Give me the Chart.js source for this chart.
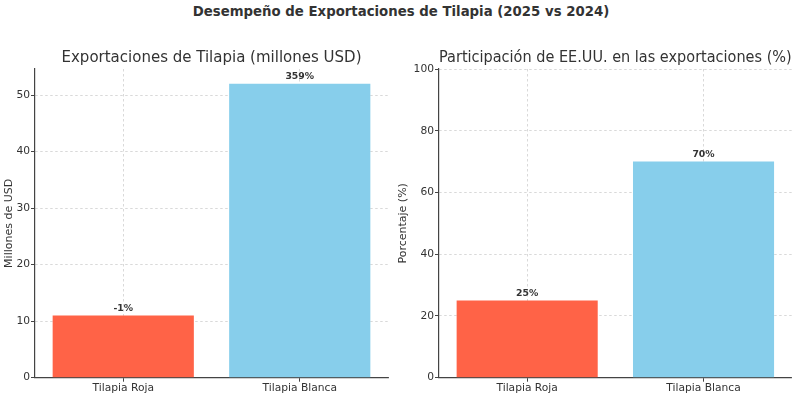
<!DOCTYPE html>
<html>
<head>
<meta charset="utf-8">
<script src="https://cdn.jsdelivr.net/npm/chart.js@4"></script>
<style>
  html, body { margin: 0; padding: 0; background: #fff; }
  #wrap { position: relative; width: 800px; height: 397px; overflow: hidden; }
  #suptitle { position: absolute; left: 0; top: 4px; width: 802px; height: 24px; line-height: 24px;
    text-align: center; font: bold 13.3px 'DejaVu Sans'; color: #333; }
  canvas { position: absolute; top: 0; }
</style>
</head>
<body>
<div id="wrap">
  <div id="suptitle">Desempeño de Exportaciones de Tilapia (2025 vs 2024)</div>
  <canvas id="c1" width="400" height="397" style="left:0px"></canvas>
  <canvas id="c2" width="405" height="397" style="left:395px"></canvas>
</div>
<script>
const categories = ['Tilapia Roja', 'Tilapia Blanca'];
const exportValues = [11, 52];
const exportChangeLabels = ['-1%', '359%'];
const usShareValues = [25, 70];
const usShareLabels = ['25%', '70%'];
const barColors = ['#FF6347', '#87CEEB'];

const FONT = 'DejaVu Sans';
const TEXT = '#333';

const barLabelPlugin = {
  id: 'barLabels',
  afterDatasetsDraw(chart, args, opts) {
    const ctx = chart.ctx;
    const meta = chart.getDatasetMeta(0);
    ctx.save();
    ctx.font = 'bold 9.3px ' + FONT;
    ctx.fillStyle = TEXT;
    ctx.textAlign = 'center';
    ctx.textBaseline = 'alphabetic';
    meta.data.forEach((el, i) => {
      ctx.fillText(opts.labels[i], el.x, el.y - 5);
    });
    ctx.restore();
  }
};

function makeChart(id, values, labels, title, yTitle, yMax, yStep, yWidth, padRight, titlePad, includeBounds) {
  const grid = {
    color: '#cfcfcf',
    lineWidth: 0.8,
    tickColor: '#444',
    tickBorderDash: [],
    tickLength: 4,
    tickWidth: 1
  };
  const border = { display: true, color: '#444', width: 1.2, dash: [2.5, 2.5] };
  return new Chart(document.getElementById(id), {
    type: 'bar',
    data: {
      labels: categories,
      datasets: [{
        data: values,
        backgroundColor: barColors,
        borderWidth: 0,
        barPercentage: 0.8,
        categoryPercentage: 1.0
      }]
    },
    options: {
      responsive: false,
      animation: false,
      devicePixelRatio: 1,
      layout: { padding: { top: 0, left: 0, right: padRight, bottom: 0 } },
      plugins: {
        legend: { display: false },
        tooltip: { enabled: false },
        title: {
          display: true,
          text: title,
          fullSize: false,
          color: TEXT,
          font: { family: FONT, size: 15, weight: 'normal', lineHeight: 1.2 },
          padding: { top: 49, bottom: 2 }
        },
        barLabels: { labels: labels }
      },
      scales: {
        x: {
          z: 1,
          offset: true,
          grid: Object.assign({}, grid, { offset: false }),
          border: border,
          ticks: { color: TEXT, font: { family: FONT, size: 10.7 }, padding: 0, maxRotation: 0 },
          afterFit(scale) { scale.height = 19.3; }
        },
        y: {
          min: 0,
          max: yMax,
          grid: grid,
          border: border,
          ticks: { stepSize: yStep, includeBounds: includeBounds, color: TEXT, font: { family: FONT, size: 10.7 }, padding: 1 },
          title: {
            display: true,
            text: yTitle,
            color: TEXT,
            font: { family: FONT, size: 11 },
            padding: { top: titlePad, bottom: 0 }
          },
          afterFit(scale) { scale.width = yWidth; }
        }
      }
    },
    plugins: [barLabelPlugin]
  });
}

makeChart('c1', exportValues, exportChangeLabels, 'Exportaciones de Tilapia (millones USD)',
  'Millones de USD', Math.max(...exportValues) * 1.05, 10, 35, 12, 2.4, false);
makeChart('c2', usShareValues, usShareLabels, 'Participación de EE.UU. en las exportaciones (%)',
  'Porcentaje (%)', 100, 20, 44, 8.3, 2, true);
</script>
</body>
</html>
